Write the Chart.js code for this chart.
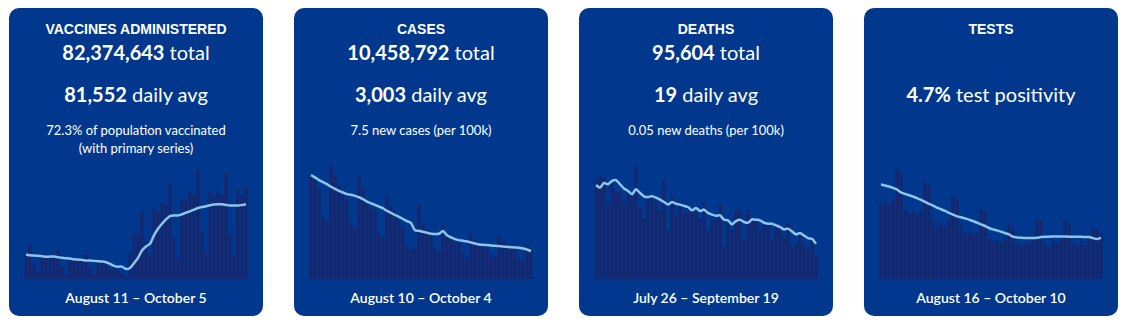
<!DOCTYPE html>
<html>
<head>
<meta charset="utf-8">
<script src="https://cdn.jsdelivr.net/npm/chart.js@4/dist/chart.umd.min.js"></script>
<style>
  body {
    margin: 0;
    width: 1126px;
    height: 326px;
    background: #fff;
    font-family: Lato, "Open Sans", sans-serif;
  }
  .card {
    position: absolute;
    top: 8px;
    width: 254px;
    height: 308px;
    background: #01388e;
    border-radius: 10px;
    color: #fff;
  }
  .card div {
    position: absolute;
    left: 0;
    width: 100%;
    text-align: center;
    white-space: nowrap;
  }
  .title {
    top: 13px;
    line-height: 16px;
    font: bold 14px "Liberation Sans", Arial, sans-serif;
  }
  .big {
    font-size: 20px;
    line-height: 24px;
  }
  .big b {
    font-weight: 700;
  }
  .total { top: 32px; }
  .avg { top: 74px; }
  .note {
    font-size: 13px;
    line-height: 18px;
  }
  .note1 { top: 113px; }
  .note2 { top: 131px; }
  .range {
    top: 281px;
    font-size: 14px;
    line-height: 18px;
    font-weight: 600;
  }
  .card canvas {
    position: absolute;
    left: 15px;
    top: 152px;
  }
</style>
</head>
<body>

<div class="card" style="left: 9px">
  <div class="title">VACCINES ADMINISTERED</div>
  <div class="big total"><b>82,374,643</b> total</div>
  <div class="big avg"><b>81,552</b> daily avg</div>
  <div class="note note1">72.3% of population vaccinated</div>
  <div class="note note2">(with primary series)</div>
  <canvas id="chartVaccines" width="224" height="119"></canvas>
  <div class="range">August 11 – October 5</div>
</div>

<div class="card" style="left: 294px">
  <div class="title">CASES</div>
  <div class="big total"><b>10,458,792</b> total</div>
  <div class="big avg"><b>3,003</b> daily avg</div>
  <div class="note note1">7.5 new cases (per 100k)</div>
  <canvas id="chartCases" width="224" height="119"></canvas>
  <div class="range">August 10 – October 4</div>
</div>

<div class="card" style="left: 579px">
  <div class="title">DEATHS</div>
  <div class="big total"><b>95,604</b> total</div>
  <div class="big avg"><b>19</b> daily avg</div>
  <div class="note note1">0.05 new deaths (per 100k)</div>
  <canvas id="chartDeaths" width="224" height="119"></canvas>
  <div class="range">July 26 – September 19</div>
</div>

<div class="card" style="left: 864px">
  <div class="title">TESTS</div>
  <div class="big avg"><b>4.7%</b> test positivity</div>
  <canvas id="chartTests" width="224" height="119"></canvas>
  <div class="range">August 16 – October 10</div>
</div>

<script>
"use strict";

// first day of each 8 week window
const vaccineStart = `2022-08-11`;
const caseStart = `2022-08-10`;
const deathStart = `2022-07-26`;
const testStart = `2022-08-16`;

// doses given per day, and the 7 day average
const vaccineDaily = [26700, 38400, 16500, 7300, 26700, 25600, 25600, 24900, 31800, 12800, 5500, 20900, 20900, 20100,
  20100, 26700, 12100, 4800, 18300, 18300, 18300, 11000, 12800, 9200, 5500, 1800, 27500, 48700,
  48700, 75000, 40300, 24500, 78700, 73200, 83100, 80500, 103600, 45000, 23100, 86700, 85300, 94800,
  92200, 119700, 51200, 26700, 94800, 89700, 95500, 91500, 114600, 48700, 25600, 97000, 91500, 100700];
const vaccineAvg = [26400, 26000, 25600, 25300, 24900, 24200, 24500, 24500, 23800, 23100, 22700, 22300, 21600, 21200,
  20900, 20100, 20100, 19800, 19400, 19000, 18300, 16500, 14300, 13500, 13500, 11000, 12100, 17200,
  23100, 31100, 35500, 38400, 47600, 54900, 60400, 65100, 68800, 69500, 69500, 70600, 72500, 73900,
  75800, 77600, 78700, 79400, 80500, 81300, 81600, 81600, 80900, 80200, 80200, 80200, 80900, 81552];

// new cases per day, and the 7 day average
const caseDaily = [11220, 10500, 9700, 6700, 6230, 12200, 11150, 10030, 9050, 8440, 6080, 5430, 11220, 9590,
  8150, 7670, 7420, 4810, 4450, 9050, 7780, 6700, 6340, 5430, 3510, 3150, 3260, 7890,
  5970, 5250, 4810, 3260, 3000, 5680, 4530, 4240, 3980, 3800, 2720, 2350, 4810, 4160,
  3620, 3510, 3370, 2530, 2280, 4600, 3980, 3730, 3370, 3150, 2240, 1810, 3730, 3150];
const caseAvg = [11220, 10970, 10680, 10460, 10240, 9960, 9740, 9520, 9340, 9160, 9090, 8980, 8830, 8620,
  8360, 8180, 8000, 7820, 7640, 7350, 7130, 6910, 6700, 6480, 6260, 6050, 5250, 5210,
  5100, 5000, 4890, 4850, 4890, 5180, 4710, 4490, 4310, 4200, 4130, 4050, 3950, 3840,
  3730, 3690, 3660, 3620, 3580, 3550, 3510, 3480, 3440, 3400, 3370, 3290, 3190, 3003];

// deaths per day, and the 7 day average
const deathDaily = [54, 56, 55, 40, 51, 47, 47, 40, 46, 46, 61, 38, 32, 43,
  44, 42, 37, 53, 26, 45, 34, 42, 35, 36, 36, 36, 32, 41,
  26, 32, 32, 40, 17, 32, 26, 37, 37, 21, 37, 31, 31, 26,
  29, 29, 21, 30, 27, 22, 30, 18, 19, 26, 18, 16, 21, 13];
const deathAvg = [50.7, 49.4, 51.9, 51.2, 53.0, 53.4, 51.2, 48.9, 47.6, 45.8, 48.5, 46.5, 44.7, 44.3,
  44.7, 44.0, 42.9, 41.6, 40.2, 41.6, 40.7, 40.2, 39.5, 38.9, 37.1, 38.4, 36.7, 37.5,
  35.7, 34.8, 34.2, 34.4, 32.0, 31.7, 29.5, 31.3, 32.0, 30.8, 30.4, 32.2, 32.0, 31.7,
  30.4, 29.9, 29.9, 29.0, 28.1, 26.8, 27.2, 25.7, 24.1, 24.8, 23.5, 22.1, 21.7, 19.0];

// percent of tests positive per day, and the 7 day average
const testDaily = [8.5, 8.8, 8.3, 9.0, 12.7, 12.1, 7.8, 7.4, 7.6, 7.3, 7.8, 11.1, 10.6, 6.6,
  6.0, 6.3, 6.0, 6.7, 9.4, 9.0, 6.0, 5.2, 5.4, 5.1, 5.3, 7.9, 7.6, 4.6,
  4.2, 4.4, 4.1, 4.6, 6.4, 6.0, 4.0, 3.7, 4.0, 3.9, 4.4, 6.7, 6.5, 4.0,
  3.6, 4.3, 4.1, 4.5, 6.6, 6.3, 3.9, 3.7, 4.2, 3.8, 4.5, 5.7, 5.7, 5.2];
const testAvg = [10.77, 10.66, 10.54, 10.39, 10.20, 9.86, 9.70, 9.55, 9.40, 9.21, 9.02, 8.79, 8.56, 8.37,
  8.14, 7.95, 7.75, 7.53, 7.33, 7.14, 7.03, 6.91, 6.76, 6.61, 6.42, 6.23, 6.04, 5.81,
  5.65, 5.54, 5.39, 5.23, 5.08, 4.81, 4.74, 4.70, 4.66, 4.66, 4.66, 4.70, 4.78, 4.81,
  4.81, 4.85, 4.85, 4.85, 4.85, 4.81, 4.81, 4.81, 4.81, 4.78, 4.78, 4.66, 4.55, 4.70];

const barColor = `#1b2466`;
const lineColor = `#8cc5e8`;

// one label per day so the bars get a category each
function dayLabels(start, count) {
  const labels = [];
  const d = new Date(`${start}T12:00:00`);
  for (let i = 0; i < count; i++) {
    labels.push(d.toISOString().slice(0, 10));
    d.setDate(d.getDate() + 1);
  }
  return labels;
}

function drawTrend(id, start, daily, avg, top) {
  const ctx = document.getElementById(id).getContext(`2d`);
  return new Chart(ctx, {
    type: `bar`,
    data: {
      labels: dayLabels(start, daily.length),
      datasets: [
        {
          // 7 day average on top of the bars
          type: `line`,
          data: avg,
          borderColor: lineColor,
          borderWidth: 2.5,
          pointRadius: 0,
          tension: 0.2,
          order: 0
        },
        {
          data: daily,
          backgroundColor: barColor,
          barThickness: 2,
          order: 1
        }
      ]
    },
    options: {
      responsive: false,
      animation: false,
      devicePixelRatio: 1,
      layout: { padding: 0 },
      plugins: {
        legend: { display: false },
        tooltip: { enabled: false }
      },
      scales: {
        x: { display: false, offset: true },
        y: { display: false, min: 0, max: top }
      }
    }
  });
}

drawTrend(`chartVaccines`, vaccineStart, vaccineDaily, vaccineAvg, 130000);
drawTrend(`chartCases`, caseStart, caseDaily, caseAvg, 12850);
drawTrend(`chartDeaths`, deathStart, deathDaily, deathAvg, 64.3);
drawTrend(`chartTests`, testStart, testDaily, testAvg, 13.56);
</script>
</body>
</html>
